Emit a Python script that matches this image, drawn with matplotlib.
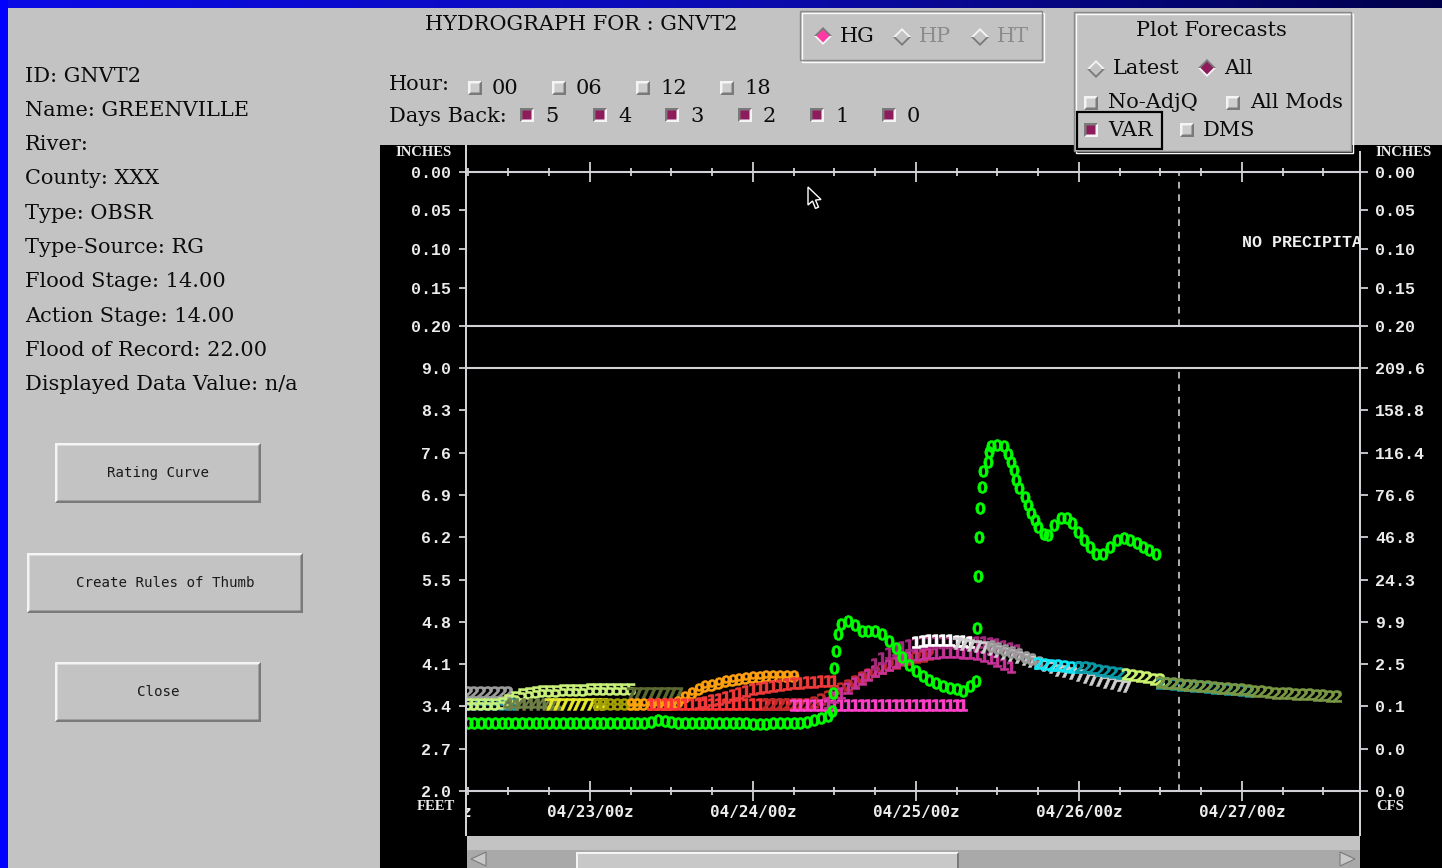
import numpy as np
import matplotlib
matplotlib.use("Agg")
import matplotlib.pyplot as plt
from matplotlib.patches import Rectangle, Polygon

# ---------------- station panel text ----------------
station_lines = ["ID: GNVT2", "Name: GREENVILLE", "River:", "County: XXX",
                 "Type: OBSR", "Type-Source: RG", "Flood Stage: 14.00",
                 "Action Stage: 14.00", "Flood of Record: 22.00",
                 "Displayed Data Value: n/a"]
button_labels = ["Rating Curve", "Create Rules of Thumb", "Close"]
hour_labels = ["00", "06", "12", "18"]
days_back_labels = ["5", "4", "3", "2", "1", "0"]

# ---------------- axis scales ----------------
precip_ticks = [0.00, 0.05, 0.10, 0.15, 0.20]
precip_labels = ["0.00", "0.05", "0.10", "0.15", "0.20"]
stage_ticks = [2.0, 2.7, 3.4, 4.1, 4.8, 5.5, 6.2, 6.9, 7.6, 8.3, 9.0]
stage_labels = ["2.0", "2.7", "3.4", "4.1", "4.8", "5.5", "6.2", "6.9", "7.6", "8.3", "9.0"]
flow_labels = ["0.0", "0.0", "0.1", "2.5", "9.9", "24.3", "46.8", "76.6", "116.4", "158.8", "209.6"]
# time axis in hours after 04/22 00z
date_ticks = [24, 48, 72, 96, 120]
date_labels = ["04/23/00z", "04/24/00z", "04/25/00z", "04/26/00z", "04/27/00z"]
time_window = (5.9, 137.4)
now_hour = 110.8
precip_note = "NO PRECIPITA"

# ---------------- observed stage (feet) ----------------
obs_hours = list(range(6, 60)) + [
    59.6, 59.8, 60.0, 60.3, 60.6, 61.0, 62.0, 63.0, 64.0, 65.0, 66.0, 67.0,
    68.0, 69.0, 70.0, 71.0, 72.0, 73.0, 74.0, 75.0, 76.0, 77.0, 78.0, 79.0,
    80.0, 80.8, 81.0, 81.1, 81.3, 81.5, 81.7, 81.9, 82.6, 82.8, 83.0, 84.0,
    85.0, 85.6, 86.0, 86.4, 86.8, 87.2, 88.0, 88.5, 89.0, 89.5, 90.0, 90.8,
    91.4, 92.3, 93.3, 94.2, 95.0, 95.9, 96.8, 97.7, 98.5, 99.6, 100.6, 101.6,
    102.6, 103.6, 104.5, 105.5, 106.4, 107.3]
obs_stage = [
    3.12, 3.12, 3.13, 3.12, 3.12, 3.12, 3.13, 3.12, 3.12, 3.12, 3.12, 3.13,
    3.12, 3.12, 3.12, 3.12, 3.12, 3.13, 3.12, 3.12, 3.12, 3.12, 3.12, 3.12,
    3.13, 3.12, 3.12, 3.15, 3.17, 3.16, 3.14, 3.12, 3.12, 3.12, 3.12, 3.13,
    3.12, 3.12, 3.12, 3.12, 3.12, 3.12, 3.11, 3.11, 3.11, 3.12, 3.12, 3.12,
    3.12, 3.13, 3.14, 3.17, 3.20, 3.24,
    3.33, 3.63, 4.04, 4.32, 4.60, 4.77, 4.82, 4.75, 4.65, 4.64, 4.64, 4.59,
    4.49, 4.36, 4.21, 4.09, 3.99, 3.91, 3.84, 3.79, 3.74, 3.71, 3.68, 3.66,
    3.73, 3.82, 4.69, 5.55, 6.20, 6.69, 7.03, 7.29, 7.44, 7.61, 7.71, 7.72,
    7.71, 7.57, 7.44, 7.31, 7.14, 7.01, 6.86, 6.73, 6.60, 6.48, 6.37, 6.26,
    6.23, 6.40, 6.51, 6.51, 6.43, 6.28, 6.15, 6.03, 5.93, 5.93, 6.03, 6.15,
    6.18, 6.15, 6.10, 6.03, 5.98, 5.93]

# ---------------- forecast stage traces (hourly, feet) ----------------
fc_grey_early = [3.64, 3.64, 3.64, 3.64, 3.64, 3.64, 3.64]
fc_teal_early = [3.44, 3.44, 3.44, 3.44, 3.44, 3.44, 3.44, 3.44]
fc_lime_early = [3.44, 3.44, 3.44, 3.44, 3.44, 3.45, 3.50, 3.55, 3.60, 3.62,
                 3.64, 3.65, 3.66, 3.66, 3.67, 3.67, 3.67, 3.67, 3.68, 3.68,
                 3.68, 3.68, 3.68, 3.68, 3.68]
fc_dkolive = [3.44, 3.44, 3.44, 3.44, 3.44, 3.44, 3.44, 3.44]
fc_yellow = [3.44, 3.44, 3.44, 3.44, 3.44, 3.44, 3.44, 3.44, 3.44]
fc_olive = [3.44, 3.44, 3.44, 3.44, 3.44, 3.44, 3.44]
fc_moss = [3.63, 3.63, 3.63, 3.63, 3.63, 3.63, 3.63, 3.63]
fc_orange = [3.44, 3.44, 3.44, 3.44, 3.44, 3.44, 3.44, 3.47, 3.55, 3.62,
             3.68, 3.73, 3.76, 3.79, 3.82, 3.84, 3.86, 3.87, 3.88, 3.89,
             3.90, 3.91, 3.91, 3.91, 3.91]
fc_red_flat = [3.44, 3.44, 3.44, 3.44, 3.44, 3.44, 3.44, 3.44, 3.44, 3.44,
               3.44, 3.44, 3.44, 3.44, 3.44, 3.44, 3.44, 3.44, 3.44, 3.44,
               3.44, 3.44, 3.44, 3.44]
fc_red_rise = [3.46, 3.48, 3.50, 3.53, 3.56, 3.59, 3.62, 3.65, 3.68, 3.70,
               3.72, 3.74, 3.76, 3.77, 3.78, 3.79, 3.80, 3.81, 3.82, 3.82, 3.82]
fc_darkred = [3.44, 3.44, 3.44, 3.44, 3.44, 3.44, 3.44, 3.47, 3.52, 3.58,
              3.64, 3.70, 3.76, 3.82, 3.88, 3.94, 3.99, 4.04, 4.08, 4.12,
              4.16, 4.19, 4.22, 4.24, 4.26]
fc_pink = [3.43, 3.43, 3.43, 3.43, 3.43, 3.43, 3.43, 3.43, 3.43, 3.43,
           3.43, 3.43, 3.43, 3.43, 3.43, 3.43, 3.43, 3.43, 3.43, 3.43,
           3.43, 3.43, 3.43, 3.43, 3.43, 3.43]
fc_magenta = [3.45, 3.55, 3.63, 3.70, 3.78, 3.85, 3.92, 3.98, 4.04, 4.09,
              4.14, 4.18, 4.22, 4.25, 4.27, 4.28, 4.29, 4.30, 4.30, 4.30,
              4.29, 4.28, 4.26, 4.24, 4.20, 4.15, 4.10, 4.05]
fc_purple = [4.10, 4.20, 4.28, 4.34, 4.39, 4.42, 4.45, 4.46, 4.47, 4.47,
             4.47, 4.47, 4.47, 4.47, 4.47, 4.47, 4.47, 4.45, 4.43, 4.40,
             4.37, 4.33]
fc_white = [4.47, 4.49, 4.50, 4.50, 4.50, 4.50, 4.49, 4.48, 4.47]
fc_silver = [4.45, 4.44, 4.42, 4.40, 4.38, 4.35, 4.32, 4.29, 4.25, 4.22,
             4.18, 4.15, 4.12, 4.08, 4.05, 4.01, 3.98, 3.95, 3.92, 3.89,
             3.86, 3.84, 3.81, 3.78, 3.76, 3.74]
fc_grey_late = [4.40, 4.37, 4.33, 4.30, 4.26, 4.22, 4.18, 4.14]
fc_cyan = [4.12, 4.10, 4.09, 4.08, 4.07, 4.06, 4.05]
fc_teal_late = [4.06, 4.05, 4.03, 4.01, 3.99, 3.97, 3.95, 3.93]
fc_lime_late = [3.94, 3.92, 3.90, 3.88, 3.86, 3.85]
fc_teal_tail = [3.79, 3.78, 3.77, 3.76, 3.75, 3.74, 3.73, 3.72, 3.71, 3.70,
                3.69, 3.68, 3.67, 3.66]
fc_green_tail = [3.80, 3.79, 3.78, 3.77, 3.76, 3.75, 3.74, 3.73, 3.72, 3.71,
                 3.70, 3.69, 3.68, 3.67, 3.66, 3.65, 3.64, 3.63, 3.62, 3.62,
                 3.61, 3.60, 3.60, 3.59, 3.59, 3.58, 3.58]

# (values, first hour, glyph, colour) in drawing order
forecast_traces = [
    (fc_grey_early, 6, "2", "#9c9c9c"),
    (fc_teal_early, 6, "3", "#2b9bab"),
    (fc_lime_early, 6, "5", "#c8f07a"),
    (fc_dkolive, 12, "4", "#6f7f45"),
    (fc_yellow, 18, "7", "#e8e82a"),
    (fc_olive, 25, "8", "#a3a000"),
    (fc_moss, 30, "7", "#5d6b32"),
    (fc_orange, 30, "9", "#ffa010"),
    (fc_red_flat, 33, "1", "#ff3434"),
    (fc_red_rise, 40, "1", "#f03a3a"),
    (fc_darkred, 50, "2", "#c02a2a"),
    (fc_pink, 54, "1", "#ff40c8"),
    (fc_magenta, 59, "1", "#c8329a"),
    (fc_purple, 66, "1", "#a52a7d"),
    (fc_white, 72, "1", "#ffffff"),
    (fc_silver, 78, "7", "#cfcfcf"),
    (fc_grey_late, 83, "6", "#9a9a9a"),
    (fc_cyan, 90, "2", "#10e8f8"),
    (fc_teal_late, 96, "2", "#089aa6"),
    (fc_lime_late, 103, "2", "#ccf46e"),
    (fc_teal_tail, 108, "2", "#1a9aa8"),
    (fc_green_tail, 108, "2", "#7a9844"),
]

# ======================================================================
W, H = 1442, 868
PX = 0.72                      # points per pixel at 100 dpi
GREY = "#c3c3c3"
LIGHT = "#f4f4f4"
DARK = "#7a7a7a"
CHECK = "#8e1b5c"
LINE = "#d2d2d6"
LABEL = "#ececec"
SERIF = "DejaVu Serif"
MONO = "Liberation Mono"
GUI_SIZE = 15

fig = plt.figure(figsize=(W / 100, H / 100), dpi=100, facecolor=GREY)
bg = fig.add_axes([0, 0, 1, 1], zorder=0)
bg.set_xlim(0, W)
bg.set_ylim(H, 0)
bg.set_axis_off()


def rect(x0, y0, x1, y1, fc, ec="none", lw=0, z=1):
    bg.add_patch(Rectangle((x0, y0), x1 - x0, y1 - y0, facecolor=fc,
                           edgecolor=ec, linewidth=lw, zorder=z))


def bevel(x0, y0, x1, y1, face=GREY, raised=True, t=2.0, z=3):
    rect(x0, y0, x1, y1, face, z=z)
    hi, lo = (LIGHT, DARK) if raised else (DARK, LIGHT)
    bg.add_patch(Polygon([(x0, y0), (x1, y0), (x1 - t, y0 + t), (x0 + t, y0 + t),
                          (x0 + t, y1 - t), (x0, y1)], closed=True, fc=hi, ec="none", zorder=z + 0.1))
    bg.add_patch(Polygon([(x1, y1), (x0, y1), (x0 + t, y1 - t), (x1 - t, y1 - t),
                          (x1 - t, y0 + t), (x1, y0)], closed=True, fc=lo, ec="none", zorder=z + 0.1))


def etched(x0, y0, x1, y1, z=3):
    rect(x0, y0, x1, y1, GREY, z=z)
    bg.add_patch(Rectangle((x0 + 1.5, y0 + 1.5), x1 - x0, y1 - y0, fc="none",
                           ec="#fafafa", lw=1.4 * PX, zorder=z + 0.1))
    bg.add_patch(Rectangle((x0, y0), x1 - x0, y1 - y0, fc="none",
                           ec="#8a8a8a", lw=1.4 * PX, zorder=z + 0.2))


def checkbox(x, y, checked, s=14, z=5):
    if checked:
        bevel(x, y, x + s, y + s, face=CHECK, raised=False, t=2.5, z=z)
    else:
        bevel(x, y, x + s, y + s, face="#cdcdcd", raised=True, t=2.5, z=z)


def diamond(cx, cy, r, fill=None, z=5):
    up = DARK if fill else LIGHT
    dn = LIGHT if fill else DARK
    bg.add_patch(Polygon([(cx - r, cy), (cx, cy - r), (cx + r, cy)], closed=True,
                         fc=up, ec="none", zorder=z))
    bg.add_patch(Polygon([(cx - r, cy), (cx, cy + r), (cx + r, cy)], closed=True,
                         fc=dn, ec="none", zorder=z))
    ri = r - 2.6
    bg.add_patch(Polygon([(cx - ri, cy), (cx, cy - ri), (cx + ri, cy), (cx, cy + ri)],
                         closed=True, fc=fill if fill else GREY, ec="none", zorder=z + 0.1))


def label(x, y, s, size=GUI_SIZE, color="#0c0c0c", ha="left", family=SERIF, z=6, **kw):
    return bg.text(x, y, s, fontsize=size, color=color, ha=ha, va="center",
                   family=family, zorder=z, **kw)


# window border
grad = np.linspace(0, 1, 256)[None, :]
top_cmap = matplotlib.colors.LinearSegmentedColormap.from_list(
    "border", ["#0a0ae6", "#0c0cb4", "#00004a"])
bg.imshow(grad, cmap=top_cmap, extent=[0, W, 8, 0], aspect="auto", zorder=1)
rect(0, 0, 8, H, "#0000ff", z=1.2)

# station information
for i, s in enumerate(station_lines):
    label(25, 76 + i * 34.3, s)

# buttons
for (x0, y0, x1, y1), s in zip([(55, 443, 261, 503), (27, 553, 303, 613),
                                 (55, 662, 261, 722)], button_labels):
    bevel(x0, y0, x1, y1, raised=True, t=2.5)
    label((x0 + x1) / 2, (y0 + y1) / 2, s, size=10.2, ha="center",
          family="DejaVu Sans Mono", color="#1a1a1a")

# title and selectors
label(425, 24, "HYDROGRAPH FOR : GNVT2")
etched(800, 11, 1042, 60)
diamond(823, 36, 9, fill="#ff3aa4")
label(840, 37, "HG")
diamond(902, 37, 9)
label(919, 37, "HP", color="#8c8c8c")
diamond(980, 37, 9)
label(997, 37, "HT", color="#8c8c8c")

label(389, 84, "Hour:")
for xb, s in zip([468, 552, 636, 720], hour_labels):
    checkbox(xb, 81, False)
    label(xb + 24, 88, s)
label(389, 117, "Days Back:")
for xb, s in zip([520, 593, 665, 738, 810, 882], days_back_labels):
    checkbox(xb, 108, True)
    label(xb + 25, 116, s)

# black plotting panel
rect(380, 145, W, H, "#000000", z=2)
rect(467, 836, 1360, 850, GREY, z=2.2)
rect(467, 850, 1360, H, "#a9a9a9", z=2.2)
bevel(576, 852, 959, H + 3, face="#c8c8c8", raised=True, t=2, z=2.4)
bg.add_patch(Polygon([(471, 859), (486, 852), (486, 866)], closed=True,
                     fc="#c8c8c8", ec=DARK, lw=0.8, zorder=2.5))
bg.add_patch(Polygon([(1355, 859), (1340, 852), (1340, 866)], closed=True,
                     fc="#c8c8c8", ec=DARK, lw=0.8, zorder=2.5))
for xv, ytop in [(466, 145), (1360, 151)]:
    bg.plot([xv, xv], [ytop, 836], color=LINE, lw=2 * PX, zorder=2.6,
            solid_capstyle="butt")

# forecast options
etched(1074, 12, 1351, 151, z=3)
label(1211, 30, "Plot Forecasts", ha="center")
diamond(1096, 69, 9)
label(1113, 69, "Latest")
diamond(1207, 68, 9, fill=CHECK)
label(1224, 69, "All")
checkbox(1084, 96, False)
label(1108, 103, "No-AdjQ")
checkbox(1226, 96, False)
label(1250, 103, "All Mods")
checkbox(1084, 123, True)
label(1108, 130, "VAR")
checkbox(1180, 123, False)
label(1203, 130, "DMS")
bg.add_patch(Rectangle((1077, 112), 85, 37, fc="none", ec="#000000",
                       lw=2.2 * PX, zorder=7))

# unit captions
cap = dict(size=10.5, color=LABEL, family="Liberation Serif", weight="bold")
label(424, 153, "INCHES", ha="center", **cap)
label(1404, 153, "INCHES", ha="center", **cap)
label(436, 806, "FEET", ha="center", **cap)
label(1390, 806, "CFS", ha="center", **cap)

# pointer
bg.add_patch(Polygon([(808, 187), (808, 205), (812.5, 201), (815.5, 208.5),
                      (818.5, 207), (815.5, 200), (821, 199.5)], closed=True,
                     fc="#000000", ec="#ffffff", lw=1.0, zorder=8))


# ---------------- data axes ----------------
def place(x0, y0, x1, y1):
    return [x0 / W, 1 - y1 / H, (x1 - x0) / W, (y1 - y0) / H]


ax_p = fig.add_axes(place(467, 172, 1360, 326), zorder=2)
ax_s = fig.add_axes(place(467, 368, 1360, 791), zorder=2)
six_hourly = list(range(6, 138, 6))
tick_font = dict(family=MONO, weight="bold", size=12)
date_font = dict(family="DejaVu Sans Mono", weight="bold", size=11.5, color=LABEL)

for ax in (ax_p, ax_s):
    ax.set_facecolor("none")
    ax.set_xlim(*time_window)
    for side in ("left", "right"):
        ax.spines[side].set_visible(False)
    for side in ("top", "bottom"):
        ax.spines[side].set_color(LINE)
        ax.spines[side].set_linewidth(1.5)
    ax.set_xticks(date_ticks)
    ax.set_xticks(six_hourly, minor=True)
    ax.tick_params(axis="x", which="major", direction="inout", length=14,
                   width=1.3, color=LINE)
    ax.tick_params(axis="x", which="minor", direction="inout", length=6,
                   width=1.3, color=LINE)
    ax.tick_params(axis="y", direction="out", length=6, width=1.3,
                   color=LINE, labelcolor=LABEL, pad=5.5)

ax_p.set_ylim(0.20, 0.0)
ax_p.xaxis.set_ticks_position("top")
ax_p.tick_params(axis="x", labeltop=False, labelbottom=False)
ax_p.set_yticks(precip_ticks)
ax_p.set_yticklabels(precip_labels, **tick_font)

ax_s.set_ylim(2.0, 9.0)
ax_s.xaxis.set_ticks_position("bottom")
ax_s.set_xticklabels(date_labels, **date_font)
ax_s.tick_params(axis="x", which="major", pad=3)
ax_s.set_yticks(stage_ticks)
ax_s.set_yticklabels(stage_labels, **tick_font)

# right-hand scales
for ax, ticks, labels, lim in [(ax_p, precip_ticks, precip_labels, (0.20, 0.0)),
                               (ax_s, stage_ticks, flow_labels, (2.0, 9.0))]:
    tw = ax.twinx()
    tw.set_zorder(2)
    tw.set_ylim(*lim)
    for sp in tw.spines.values():
        sp.set_visible(False)
    tw.set_yticks(ticks)
    tw.set_yticklabels(labels, **tick_font)
    tw.tick_params(axis="y", direction="out", length=6, width=1.3,
                   color=LINE, labelcolor=LABEL, pad=5)

# current time marker
for ax in (ax_p, ax_s):
    ax.axvline(now_hour, color="#cfcfcf", lw=1.2, ls=(0, (4, 3.5)), zorder=1)

# precipitation note, running off the right edge of the panel
ax_p.text(120.0, 0.092, precip_note, family=MONO, weight="bold",
          size=12, color="#f0f0f0", va="center", ha="left", clip_on=True)

# tail of the previous day's label, cut by the panel edge
clip = Rectangle((467, 796), 893, 35, transform=bg.transData)
first = ax_s.text(6.55, -0.05, "z", transform=ax_s.get_xaxis_transform(),
                  ha="right", va="center", clip_on=True, **date_font)
first.set_clip_path(clip)

# forecast traces
for vals, start, glyph, col in forecast_traces:
    hrs = np.arange(len(vals)) + start
    ax_s.plot(hrs, vals, ls="none", marker=f"$\\mathbf{{{glyph}}}$",
              markersize=8.5, color=col, markeredgewidth=0.4, zorder=3)

# observed stage
ax_s.plot(obs_hours, obs_stage, ls="none", marker="$\\mathbf{0}$",
          markersize=8.5, color="#00ff00", markeredgewidth=0.4, zorder=4)

fig.savefig("out.png", dpi=100, facecolor=GREY)
